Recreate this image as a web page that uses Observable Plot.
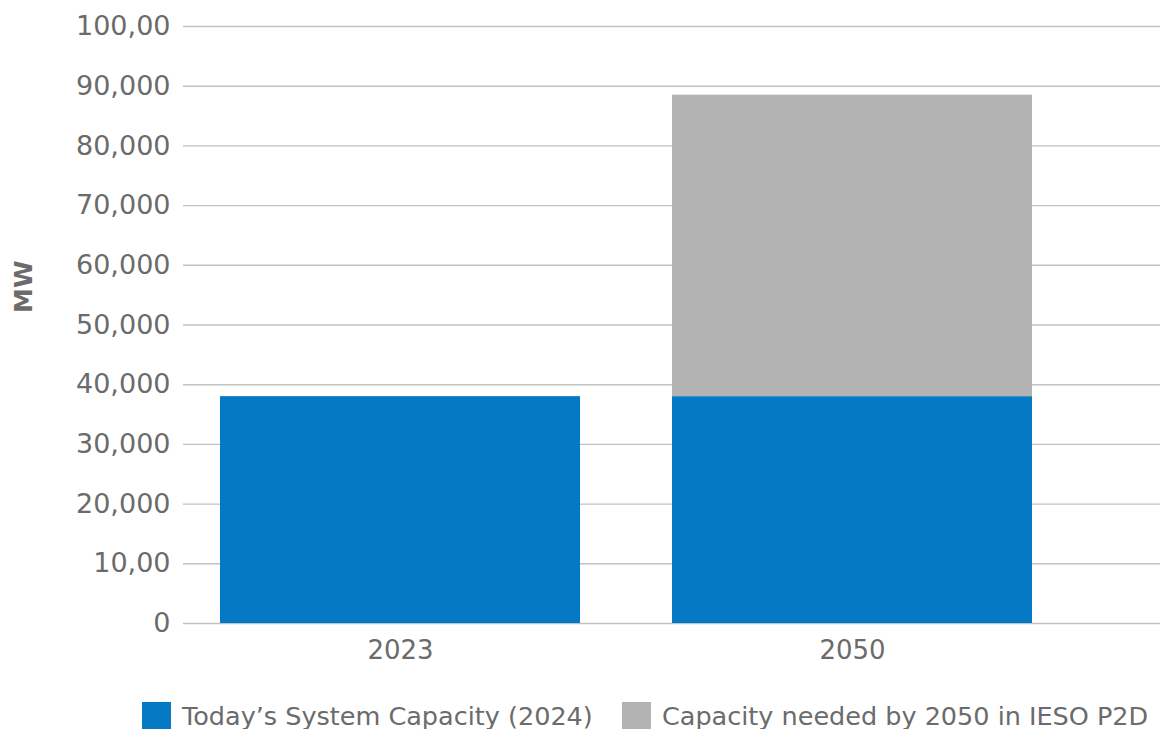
<!DOCTYPE html>
<html>
<head>
<meta charset="utf-8">
<script src="https://cdn.jsdelivr.net/npm/d3@7"></script>
<script src="https://cdn.jsdelivr.net/npm/@observablehq/plot@0.6"></script>
<style>
  html, body { margin: 0; padding: 0; background: #fff; overflow: hidden; }
  #chart { position: relative; width: 1160px; height: 729px; }
  #chart svg { display: block; }
  .legend {
    position: absolute; left: 0; top: 702px; width: 1160px; height: 29px;
    font-family: "DejaVu Sans", sans-serif; font-size: 25.5px; line-height: 29px;
    color: #6b6b6b; white-space: nowrap;
  }
  .legend .sw { position: absolute; top: 0; width: 29px; height: 29px; }
  .legend .lbl { position: absolute; top: 0; }
</style>
</head>
<body>
<div id="chart"></div>
<script>
// Installed capacity by year (MW)
const years = ["2023", "2050"];
const seriesNames = ["Today\u2019s System Capacity (2024)", "Capacity needed by 2050 in IESO P2D"];
const todayCapacity = [38000, 38000];
const additionalNeeded = [0, 50500];
const seriesColors = ["#0679C4", "#B3B3B3"];

const yTicks = [0, 10000, 20000, 30000, 40000, 50000, 60000, 70000, 80000, 90000, 100000];
const yTickLabels = ["0", "10,00", "20,000", "30,000", "40,000", "50,000", "60,000", "70,000", "80,000", "90,000", "100,00"];

const rows = [];
years.forEach((yr, i) => {
  rows.push({year: yr, series: seriesNames[0], value: todayCapacity[i]});
  if (additionalNeeded[i] > 0) rows.push({year: yr, series: seriesNames[1], value: additionalNeeded[i]});
});

const font = "'DejaVu Sans', sans-serif";
const textColor = "#6b6b6b";

const plot = Plot.plot({
  width: 1160,
  height: 700,
  marginTop: 26,
  marginBottom: 77,
  marginLeft: 183,
  marginRight: 0,
  style: {fontFamily: font, fontSize: "26px", color: textColor, background: "#fff"},
  x: {domain: years, paddingInner: 0.2035, paddingOuter: 0.1825, align: 0.224, label: null},
  y: {domain: [0, 100000], label: null},
  color: {domain: seriesNames, range: seriesColors},
  marks: [
    Plot.ruleY(yTicks, {stroke: "#c2c2c2", strokeWidth: 1.4}),
    Plot.barY(rows, Plot.stackY({x: "year", y: "value", fill: "series", order: seriesNames})),
    Plot.axisY(yTicks, {
      tickSize: 0, tickPadding: 13,
      tickFormat: (d) => yTickLabels[yTicks.indexOf(d)],
      fill: textColor, fontSize: 27, label: null
    }),
    Plot.axisX({tickSize: 0, tickPadding: 17, fill: textColor, fontSize: 26, label: null}),
    Plot.text(["MW"], {
      frameAnchor: "left", dx: -160, dy: -12, rotate: -90, fill: textColor,
      fontSize: 25, fontWeight: "bold", text: (d) => d
    })
  ]
});
const chart = document.getElementById("chart");
chart.appendChild(plot);

// Legend below the plot
const legend = document.createElement("div");
legend.className = "legend";
const swatchX = [142, 622];
seriesNames.forEach((name, i) => {
  const sw = document.createElement("span");
  sw.className = "sw";
  sw.style.left = swatchX[i] + "px";
  sw.style.background = seriesColors[i];
  legend.appendChild(sw);
  const lbl = document.createElement("span");
  lbl.className = "lbl";
  lbl.style.left = (swatchX[i] + 40) + "px";
  lbl.textContent = name;
  legend.appendChild(lbl);
});
chart.appendChild(legend);
</script>
</body>
</html>
